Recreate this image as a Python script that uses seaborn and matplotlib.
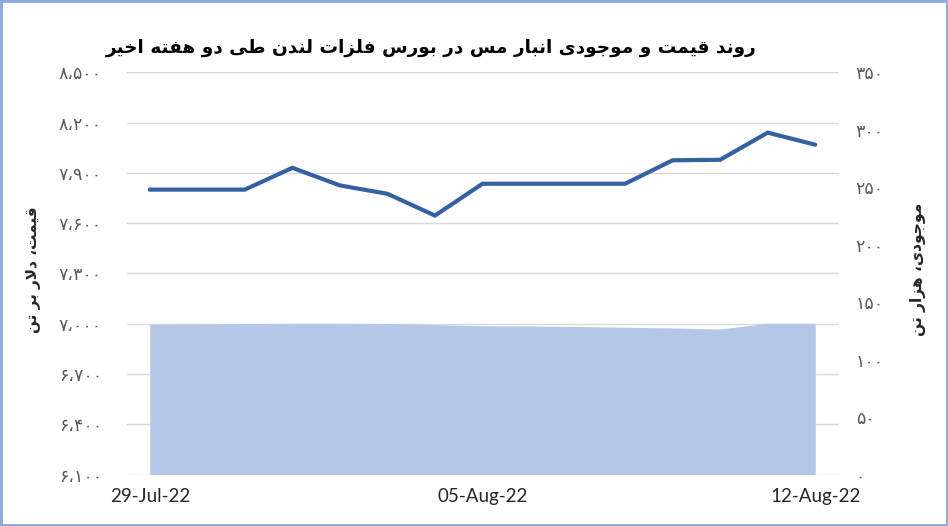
import matplotlib
matplotlib.use("Agg")
import matplotlib.pyplot as plt
import matplotlib.dates as mdates
from matplotlib.patches import Rectangle
from matplotlib.ticker import FuncFormatter, FixedLocator
import seaborn as sns
import pandas as pd

# ---------------- data ----------------
dates = ["2022-07-29", "2022-07-30", "2022-07-31", "2022-08-01", "2022-08-02",
         "2022-08-03", "2022-08-04", "2022-08-05", "2022-08-06", "2022-08-07",
         "2022-08-08", "2022-08-09", "2022-08-10", "2022-08-11", "2022-08-12"]
price = [7800, 7800, 7800, 7930, 7825, 7775, 7645, 7835, 7835, 7835,
         7835, 7975, 7978, 8140, 8068]
inventory = [130.7, 131.0, 131.3, 131.6, 131.6, 131.4, 130.5, 129.4, 129.2, 128.8,
             128.2, 127.5, 126.6, 131.6, 131.6]
left_ticks = [6100, 6400, 6700, 7000, 7300, 7600, 7900, 8200, 8500]
right_ticks = [0, 50, 100, 150, 200, 250, 300, 350]
x_ticks = ["2022-07-29", "2022-08-05", "2022-08-12"]

title_txt = "روند قیمت و موجودی انبار مس در بورس فلزات لندن طی دو هفته اخیر"
left_label = "قیمت، دلار بر تن"
right_label = "موجودی، هزار تن"

# ------------- minimal Arabic/Persian shaping -------------
FORMS = {
    'ا': ('\uFE8D', '\uFE8E', None, None),
    'آ': ('\uFE81', '\uFE82', None, None),
    'ب': ('\uFE8F', '\uFE90', '\uFE91', '\uFE92'),
    'پ': ('\uFB56', '\uFB57', '\uFB58', '\uFB59'),
    'ت': ('\uFE95', '\uFE96', '\uFE97', '\uFE98'),
    'ث': ('\uFE99', '\uFE9A', '\uFE9B', '\uFE9C'),
    'ج': ('\uFE9D', '\uFE9E', '\uFE9F', '\uFEA0'),
    'چ': ('\uFB7A', '\uFB7B', '\uFB7C', '\uFB7D'),
    'ح': ('\uFEA1', '\uFEA2', '\uFEA3', '\uFEA4'),
    'خ': ('\uFEA5', '\uFEA6', '\uFEA7', '\uFEA8'),
    'د': ('\uFEA9', '\uFEAA', None, None),
    'ذ': ('\uFEAB', '\uFEAC', None, None),
    'ر': ('\uFEAD', '\uFEAE', None, None),
    'ز': ('\uFEAF', '\uFEB0', None, None),
    'ژ': ('\uFB8A', '\uFB8B', None, None),
    'س': ('\uFEB1', '\uFEB2', '\uFEB3', '\uFEB4'),
    'ش': ('\uFEB5', '\uFEB6', '\uFEB7', '\uFEB8'),
    'ص': ('\uFEB9', '\uFEBA', '\uFEBB', '\uFEBC'),
    'ض': ('\uFEBD', '\uFEBE', '\uFEBF', '\uFEC0'),
    'ط': ('\uFEC1', '\uFEC2', '\uFEC3', '\uFEC4'),
    'ظ': ('\uFEC5', '\uFEC6', '\uFEC7', '\uFEC8'),
    'ع': ('\uFEC9', '\uFECA', '\uFECB', '\uFECC'),
    'غ': ('\uFECD', '\uFECE', '\uFECF', '\uFED0'),
    'ف': ('\uFED1', '\uFED2', '\uFED3', '\uFED4'),
    'ق': ('\uFED5', '\uFED6', '\uFED7', '\uFED8'),
    'ک': ('\uFB8E', '\uFB8F', '\uFB90', '\uFB91'),
    'گ': ('\uFB92', '\uFB93', '\uFB94', '\uFB95'),
    'ل': ('\uFEDD', '\uFEDE', '\uFEDF', '\uFEE0'),
    'م': ('\uFEE1', '\uFEE2', '\uFEE3', '\uFEE4'),
    'ن': ('\uFEE5', '\uFEE6', '\uFEE7', '\uFEE8'),
    'و': ('\uFEED', '\uFEEE', None, None),
    'ه': ('\uFEE9', '\uFEEA', '\uFEEB', '\uFEEC'),
    'ی': ('\uFBFC', '\uFBFD', '\uFBFE', '\uFBFF'),
    'ي': ('\uFEF1', '\uFEF2', '\uFEF3', '\uFEF4'),
}
LAM_ALEF = {'ا': ('\uFEFB', '\uFEFC'), 'آ': ('\uFEF5', '\uFEF6')}


def shape(s):
    res = []
    n = len(s)
    i = 0
    while i < n:
        c = s[i]
        if c not in FORMS:
            res.append(c)
            i += 1
            continue
        prev = s[i - 1] if i > 0 else None
        prev_conn = prev in FORMS and FORMS[prev][2] is not None
        if c == 'ل' and i + 1 < n and s[i + 1] in LAM_ALEF:
            iso, fin = LAM_ALEF[s[i + 1]]
            res.append(fin if prev_conn else iso)
            i += 2
            continue
        nxt = s[i + 1] if i + 1 < n else None
        iso, fin, ini, med = FORMS[c]
        next_conn = ini is not None and nxt in FORMS
        if prev_conn and next_conn:
            res.append(med)
        elif prev_conn:
            res.append(fin)
        elif next_conn:
            res.append(ini)
        else:
            res.append(iso)
        i += 1
    return ''.join(res)[::-1]


FA_DIGITS = str.maketrans("0123456789", "۰۱۲۳۴۵۶۷۸۹")


def fa_num(v, pos=None):
    s = f"{int(round(v)):,}".replace(",", "،")
    return s.translate(FA_DIGITS)


# ---------------- plot ----------------
sns.set_theme(style="white")
plt.rcParams['font.family'] = ['DejaVu Sans']

df = pd.DataFrame({"date": pd.to_datetime(dates), "price": price, "inventory": inventory})

fig = plt.figure(figsize=(9.48, 5.26), dpi=100)
fig.patch.set_facecolor("white")
ax = fig.add_axes([127 / 948, 1 - 474.5 / 526, 712 / 948, (474.5 - 72.3) / 526])

sns.lineplot(data=df, x="date", y="price", ax=ax, color="#3660A4", linewidth=3.0,
             solid_joinstyle="miter")
ax.set_ylim(6100, 8500)
ax.yaxis.set_major_locator(FixedLocator(left_ticks))
ax.yaxis.set_major_formatter(FuncFormatter(fa_num))
ax.grid(axis="y", color="#D9D9D9", linewidth=1.0)
ax.grid(axis="x", visible=False)
for sp in ax.spines.values():
    sp.set_visible(False)

ax2 = ax.twinx()
ax2.fill_between(df["date"], 0, df["inventory"], color="#B4C7E7", linewidth=0)
ax2.set_ylim(0, 350)
ax2.yaxis.set_major_locator(FixedLocator(right_ticks))
ax2.yaxis.set_major_formatter(FuncFormatter(fa_num))
ax2.grid(False)
ax2.patch.set_visible(False)
for sp in ax2.spines.values():
    sp.set_visible(False)

xmin = pd.Timestamp(dates[0]) - pd.Timedelta(hours=11.5)
xmax = pd.Timestamp(dates[-1]) + pd.Timedelta(hours=12)
ax.set_xlim(xmin, xmax)
ax.set_xticks(pd.to_datetime(x_ticks))
ax.xaxis.set_major_formatter(mdates.DateFormatter("%d-%b-%y"))

ax.tick_params(axis="y", length=0, pad=18, labelsize=12.5, labelcolor="#595959")
ax2.tick_params(axis="y", length=0, pad=12, labelsize=12.5, labelcolor="#595959")
ax.tick_params(axis="x", length=0, pad=10, labelsize=13.5, labelcolor="#262626")
for lab in ax.get_xticklabels():
    lab.set_fontfamily(["Lato", "DejaVu Sans"])

ax.set_xlabel("")
ax.set_ylabel(shape(left_label), fontsize=11, fontweight="bold", color="#262626")
ax2.set_ylabel(shape(right_label), fontsize=11.2, fontweight="bold", color="#262626",
               rotation=90)
ax.yaxis.set_label_coords((41 - 127) / 712, 0.51)
ax2.yaxis.set_label_coords((910 - 127) / 712, 0.51)

fig.text(431 / 948, 1 - 48 / 526, shape(title_txt), ha="center", va="center",
         fontsize=13.3, fontweight="bold", color="#000000")

fig.add_artist(Rectangle((0, 0), 1, 1, transform=fig.transFigure, fill=False,
                         edgecolor="#8EAADB", linewidth=3.5))

fig.savefig("out.png", dpi=100, facecolor="white")
